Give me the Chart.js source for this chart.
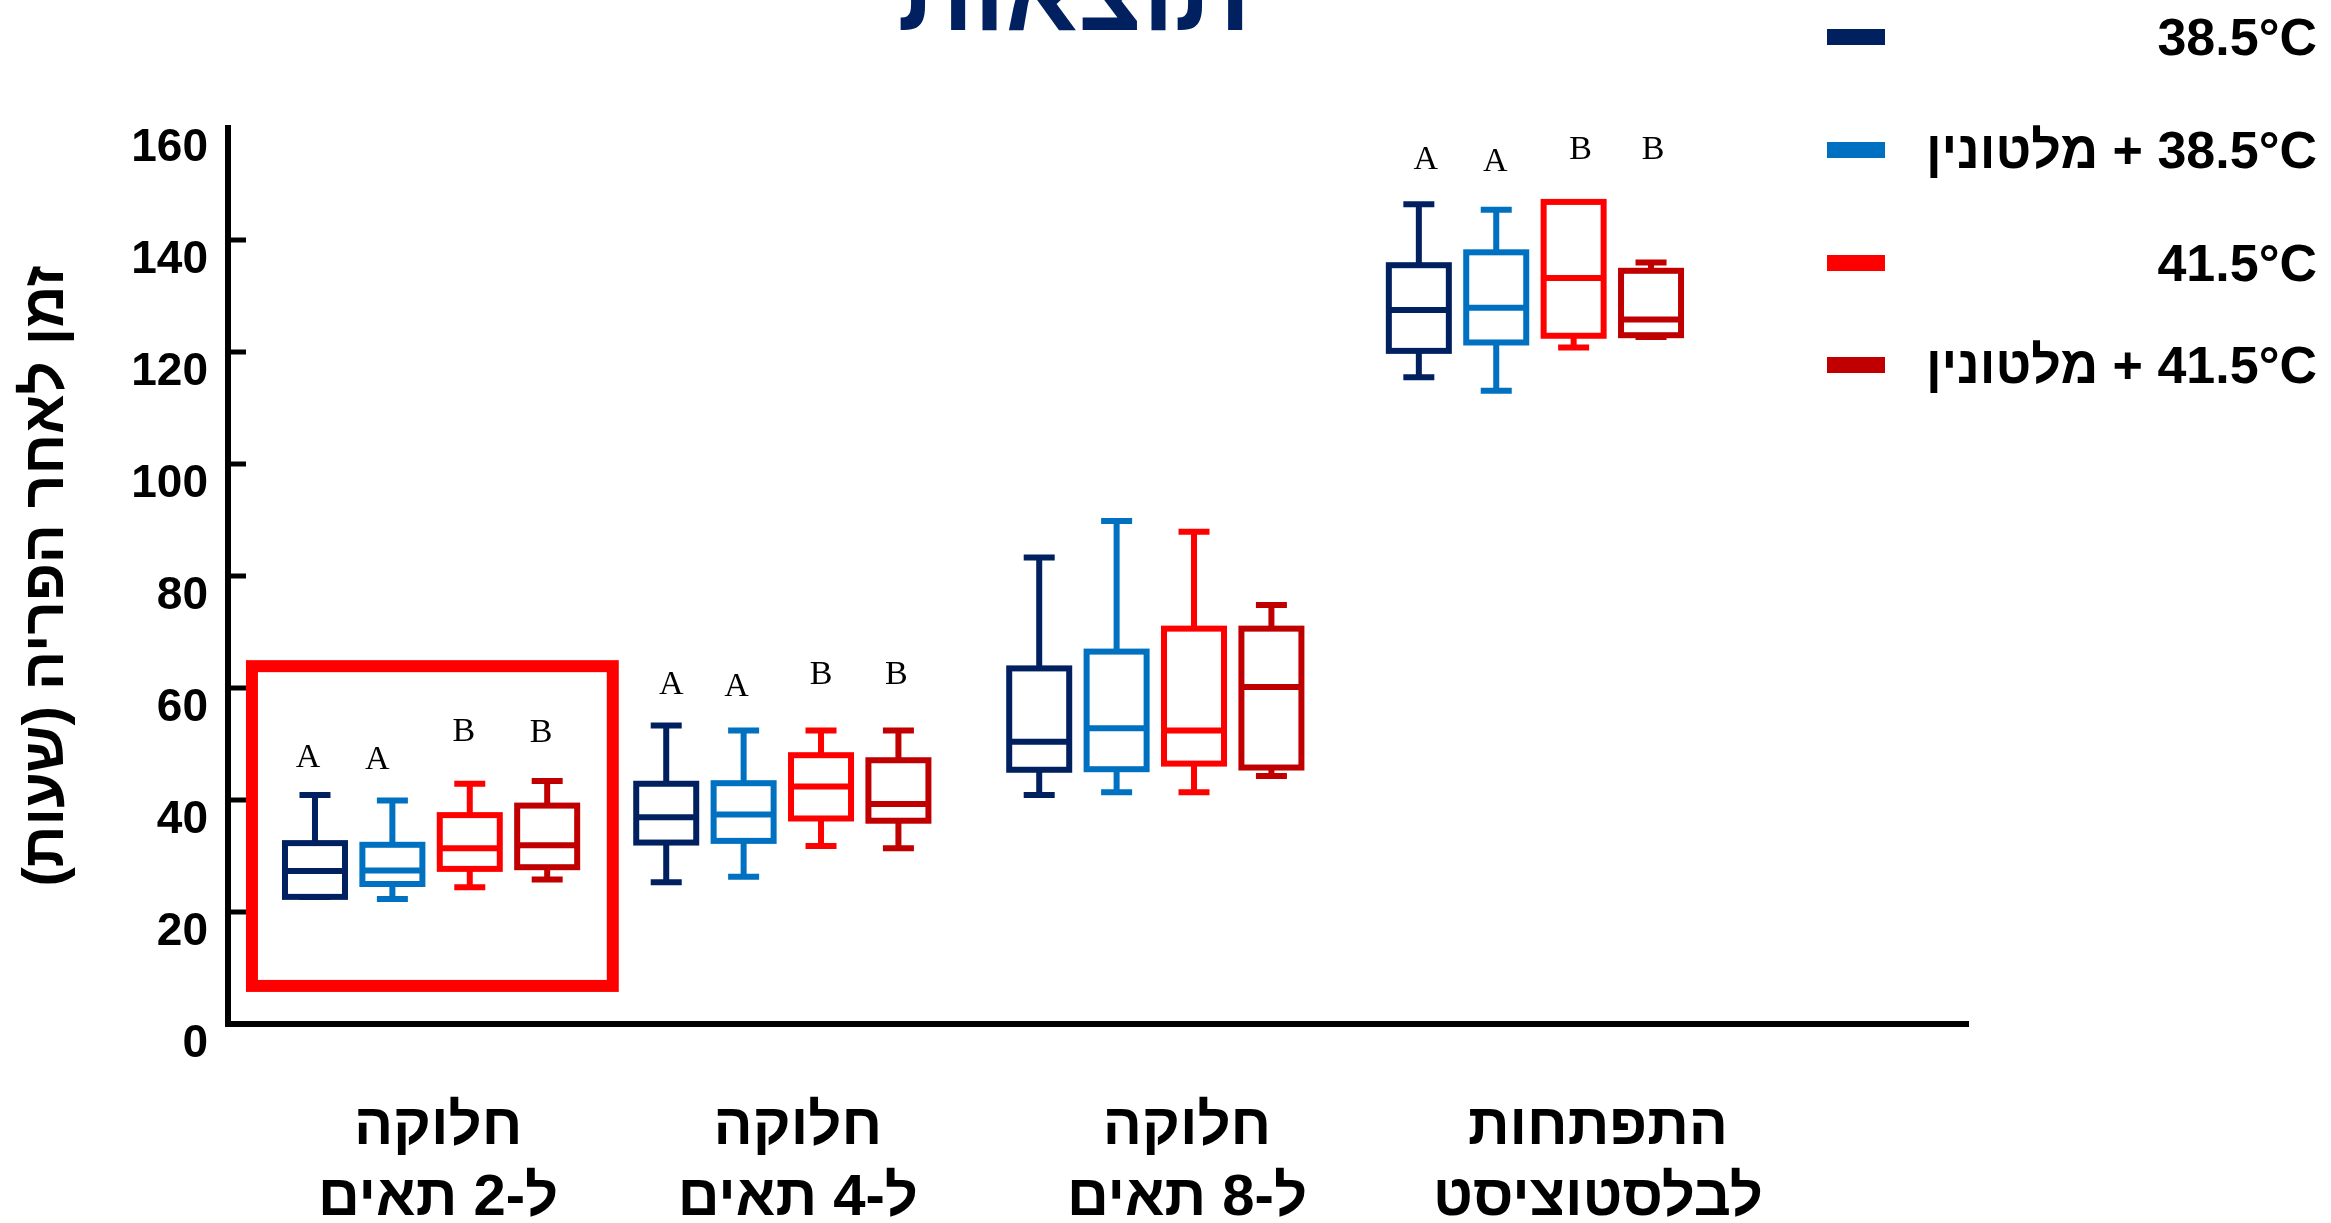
<!DOCTYPE html>
<html><head><meta charset="utf-8">
<script src="https://cdn.jsdelivr.net/npm/chart.js@4.4.1/dist/chart.umd.min.js"></script>
<style>
html,body{margin:0;padding:0;background:#fff;}
#wrap{position:relative;width:2331px;height:1223px;overflow:hidden;font-family:"Liberation Sans",Arial,sans-serif;}
#c{position:absolute;left:0;top:0;}
#title{position:absolute;left:1074px;top:-60px;transform:translateX(-50%);font-size:106px;line-height:1;font-weight:bold;color:#002060;white-space:nowrap;}
#legend{position:absolute;left:1827px;top:0;width:490px;height:420px;}
.row{position:absolute;left:0;width:490px;height:60px;}
.sw{position:absolute;left:0;top:22px;width:58px;height:16px;}
.lb{position:absolute;right:0;top:0;font-size:52px;line-height:60px;font-weight:bold;color:#000;white-space:nowrap;}
</style></head>
<body>
<div id="wrap">
  <canvas id="c" width="2331" height="1223" dir="rtl"></canvas>
  <div id="title" dir="rtl">תוצאות</div>
  <div id="legend"></div>
</div>
<script>
/* data: [min, Q1, median, Q3, max] per stage */
const stages = [['חלוקה','ל-2 תאים'],['חלוקה','ל-4 תאים'],['חלוקה','ל-8 תאים'],['התפתחות','לבלסטוציסט']];
const seriesTemp = ['38.5°C','38.5°C','41.5°C','41.5°C'];
const seriesMel  = [false,true,false,true];
const colors = ['#002060','#0070C0','#FF0000','#C00000'];

const t385  = [[22.7,22.7,27.3,32.3,40.9],[25.3,32.4,36.9,42.9,53.3],[40.9,45.4,50.4,63.5,83.3],[115.5,120.2,127.5,135.5,146.4]];
const t385m = [[22.3,25.0,27.4,32.0,39.9],[26.3,32.7,37.4,43.0,52.4],[41.4,45.5,52.8,66.5,89.8],[113.1,121.7,127.9,137.8,145.4]];
const t415  = [[24.4,27.7,31.4,37.3,42.9],[31.8,36.7,42.4,48.0,52.4],[41.4,46.5,52.4,70.6,87.9],[120.8,122.9,133.2,146.8,146.8]];
const t415m = [[25.8,28.0,31.9,39.0,43.4],[31.4,36.3,39.3,47.1,52.4],[44.3,45.8,60.2,70.6,74.8],[122.7,123.0,125.8,134.5,136.0]];
const allStats = [t385,t385m,t415,t415m];

/* significance letters per stage / series and the height they sit at (hours) */
const sigLetters = [['A','A','B','B'],['A','A','B','B'],[null,null,null,null],['A','A','B','B']];
const sigY = [[47.5,47.1,52.1,52.0],[60.5,60.2,62.3,62.3],[null,null,null,null],[154.3,153.9,156.1,156.1]];

const yTitle = 'זמן לאחר הפריה (שעות)';
const MEL = 'מלטונין';

/* layout / style */
const FONT = '"Liberation Sans", Arial, sans-serif';
const stageAt = [1.022, 1.975, 2.987, 4.017];      // group centres on the x scale
const labelAt = [1.041, 2.017, 3.073, 4.188];      // where the stage names sit
const sigDx = [[-7,-15,-6,-6],[5,-7,0,-2],[0,0,0,0],[7,-1,7,2]]; // letter nudges, px
const STEP = 0.21, BOX_W = 60, CAP_W = 31, LW = 6;
const highlight = {from:0.536, to:1.515, low:6.8, high:63.9};
const legendTop = [7,120,233,335];

const labelOf = i => seriesTemp[i] + (seriesMel[i] ? ' + ' + MEL : '');

document.getElementById('legend').innerHTML = seriesTemp.map((t,i)=>`
  <div class="row" style="top:${legendTop[i]}px">
    <div class="sw" style="background:${colors[i]}"></div>
    <div class="lb" dir="rtl"><bdi dir="ltr">${t}</bdi>${seriesMel[i] ? ' + ' + MEL : ''}</div>
  </div>`).join('');

const boxPlot = {
  id:'boxPlot',
  afterDraw(chart){
    const {ctx, chartArea:a, scales:{x,y}} = chart;
    ctx.save();
    // inward ticks on the y axis
    ctx.strokeStyle = '#000'; ctx.lineWidth = 5;
    y.ticks.forEach(t=>{
      if (t.value <= y.min || t.value >= y.max) return;
      const py = y.getPixelForValue(t.value);
      ctx.beginPath(); ctx.moveTo(a.left, py); ctx.lineTo(a.left + 18, py); ctx.stroke();
    });
    // red frame round the first stage
    ctx.strokeStyle = '#FF0000'; ctx.lineWidth = 12; ctx.lineJoin = 'miter';
    const hx0 = x.getPixelForValue(highlight.from), hx1 = x.getPixelForValue(highlight.to);
    const hy0 = y.getPixelForValue(highlight.high), hy1 = y.getPixelForValue(highlight.low);
    ctx.strokeRect(hx0, hy0, hx1 - hx0, hy1 - hy0);

    chart.data.datasets.forEach((ds,si)=>{
      ds.stats.forEach((s,gi)=>{
        const cx = x.getPixelForValue(ds.data[gi].x);
        const [mn,q1,md,q3,mx] = s.map(v=>y.getPixelForValue(v));
        ctx.strokeStyle = ds.borderColor; ctx.lineWidth = LW; ctx.lineCap = 'butt';
        ctx.beginPath();
        ctx.moveTo(cx, mx); ctx.lineTo(cx, mn);
        ctx.moveTo(cx - CAP_W/2, mx); ctx.lineTo(cx + CAP_W/2, mx);
        ctx.moveTo(cx - CAP_W/2, mn); ctx.lineTo(cx + CAP_W/2, mn);
        ctx.stroke();
        ctx.fillStyle = '#fff';
        ctx.fillRect(cx - BOX_W/2, q3, BOX_W, q1 - q3);
        ctx.strokeRect(cx - BOX_W/2, q3, BOX_W, q1 - q3);
        ctx.beginPath(); ctx.moveTo(cx - BOX_W/2, md); ctx.lineTo(cx + BOX_W/2, md); ctx.stroke();
        const L = sigLetters[gi][si];
        if (L) {
          ctx.fillStyle = '#000';
          ctx.font = '34px "Liberation Serif", "Times New Roman", serif';
          ctx.textAlign = 'center'; ctx.textBaseline = 'middle';
          ctx.fillText(L, cx + sigDx[gi][si], y.getPixelForValue(sigY[gi][si]));
        }
      });
    });
    ctx.restore();
  }
};

new Chart(document.getElementById('c'), {
  type:'scatter',
  data:{datasets: allStats.map((st,si)=>({
    label: labelOf(si),
    stats: st,
    data: st.map((s,gi)=>({x: stageAt[gi] + (si - 1.5) * STEP, y: s[2]})),
    borderColor: colors[si], backgroundColor: colors[si],
    pointRadius: 0, showLine: false
  }))},
  options:{
    responsive:false, animation:false,
    layout:{padding:{left:0, top:128, right:363, bottom:0}},
    plugins:{legend:{display:false}, tooltip:{enabled:false}},
    scales:{
      x:{
        type:'linear', min:0.471, max:5.192,
        afterBuildTicks(s){ s.ticks = labelAt.map(v=>({value:v})); },
        ticks:{callback:(v,i)=>stages[i], color:'#000', autoSkip:false, maxRotation:0, padding:69,
               font:{family:FONT, size:58, weight:'bold', lineHeight:1.224}},
        grid:{display:false, drawTicks:false},
        border:{display:true, color:'#000', width:6},
        afterFit(s){ s.height = 199; }
      },
      y:{
        min:0, max:160,
        ticks:{stepSize:20, color:'#000', padding:20, labelOffset:20,
               font:{family:FONT, size:46, weight:'bold'}},
        grid:{display:false, drawTicks:false},
        border:{display:true, color:'#000', width:6},
        title:{display:true, text:yTitle, color:'#000', padding:{top:12, bottom:0},
               font:{family:FONT, size:58, weight:'bold'}},
        afterFit(s){ s.width = 228; }
      }
    }
  },
  plugins:[boxPlot]
});
</script>
</body></html>
